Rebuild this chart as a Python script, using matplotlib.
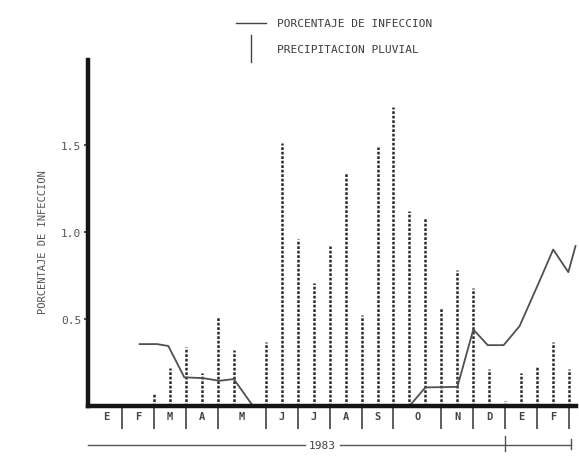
import matplotlib
matplotlib.use('Agg')
from matplotlib import pyplot as plt
from matplotlib.lines import Line2D

# quincenas (periodos de 15 dias) desde enero de 1983
meses = ['E', 'F', 'M', 'A', 'M', 'J', 'J', 'A', 'S', 'O', 'N', 'D', 'E', 'F']
limites_mes = [0, 2, 4, 6, 8, 11, 13, 15, 17, 19, 22, 24, 26, 28, 30]

# precipitacion pluvial por quincena (quincenas 4 a 30)
quincenas_lluvia = list(range(4, 31))
lluvia = [0.07, 0.22, 0.34, 0.19, 0.52, 0.32, 0.0, 0.37, 1.51, 0.96, 0.71,
          0.92, 1.34, 0.525, 1.49, 1.72, 1.12, 1.08, 0.57, 0.78, 0.68, 0.21,
          0.03, 0.19, 0.23, 0.37, 0.21]

# porcentaje de infeccion
inf_x = [3.1, 4.2, 4.9, 5.9, 7.1, 8.1, 9.0, 10.2, 20.0, 21.0, 23.0, 24.0,
         24.9, 25.9, 26.9, 28.2, 29.0, 29.95, 30.4]
inf_y = [0.356, 0.356, 0.345, 0.165, 0.16, 0.145, 0.155, 0.0, 0.0, 0.107,
         0.11, 0.44, 0.35, 0.35, 0.46, 0.73, 0.90, 0.77, 0.92]

fuente = 'DejaVu Sans Mono'
gris = '#3c3c3c'

fig = plt.figure(figsize=(5.79, 4.60), dpi=100)
ax = fig.add_axes([88 / 579, 1 - 407 / 460, (576 - 88) / 579, (407 - 61) / 460])
ax.set_xlim(-0.13, 30.43)
ax.set_ylim(0, 1.99)

# lluvia: lineas punteadas verticales
ax.vlines(quincenas_lluvia, 0, lluvia, colors='#2a2a2a', linewidth=1.8,
          linestyles=(0, (1.1, 0.7)))
# infeccion: linea continua
ax.plot(inf_x, inf_y, color='#505050', linewidth=1.3, clip_on=False)

# ejes
for lado in ['top', 'right']:
    ax.spines[lado].set_visible(False)
for lado in ['left', 'bottom']:
    ax.spines[lado].set_linewidth(3.2)
    ax.spines[lado].set_color('#151515')
ax.set_xticks([])
ax.set_yticks([0.5, 1.0, 1.5])
ax.set_yticklabels(['0.5', '1.0', '1.5'], fontfamily=fuente, fontsize=8,
                   color='#555555')
ax.tick_params(axis='y', direction='out', length=3, width=1.2, color='#333333', pad=2)

# casillas de los meses bajo el eje
ax.vlines(limites_mes[1:], -0.13, 0, colors='#333333', linewidth=1.1, clip_on=False)
for i, mes in enumerate(meses):
    centro = (limites_mes[i] + limites_mes[i + 1]) / 2
    ax.text(centro, -0.06, mes, ha='center', va='center', fontfamily=fuente,
            fontsize=7.5, fontweight='bold', color='#444444', clip_on=False)

# linea del anno
ax.plot([-0.13, 13.45], [-0.224, -0.224], color='#555555', lw=1.0, clip_on=False)
ax.plot([15.65, 30.1], [-0.224, -0.224], color='#555555', lw=1.0, clip_on=False)
ax.plot([26, 26], [-0.17, -0.26], color='#555555', lw=1.0, clip_on=False)
ax.plot([30.1, 30.1], [-0.19, -0.25], color='#555555', lw=1.0, clip_on=False)
ax.text(14.55, -0.224, '1983', ha='center', va='center', fontfamily=fuente,
        fontsize=8, color='#444444', clip_on=False)

# titulo del eje y
fig.text(43 / 579, 1 - 242 / 460, 'PORCENTAJE DE INFECCION', rotation=90,
         ha='center', va='center', fontfamily=fuente, fontsize=7.5, color='#555555')

# leyenda
fig.add_artist(Line2D([236 / 579, 266 / 579], [1 - 24 / 460, 1 - 24 / 460],
                      color='#444444', lw=1.0))
fig.add_artist(Line2D([251 / 579, 251 / 579], [1 - 36 / 460, 1 - 63 / 460],
                      color='#444444', lw=1.0))
fig.text(277 / 579, 1 - 24 / 460, 'PORCENTAJE DE INFECCION', va='center',
         fontfamily=fuente, fontsize=8, color=gris)
fig.text(277 / 579, 1 - 50 / 460, 'PRECIPITACION PLUVIAL', va='center',
         fontfamily=fuente, fontsize=8, color=gris)

fig.savefig('out.png', dpi=100)
